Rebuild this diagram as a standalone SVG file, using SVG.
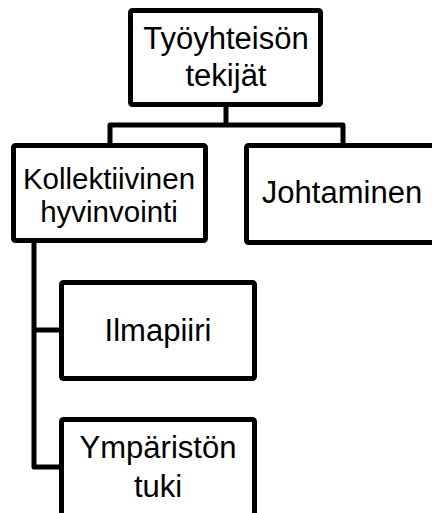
<svg xmlns="http://www.w3.org/2000/svg" width="432" height="513" viewBox="0 0 432 513">
<style>
.box{fill:#fff;stroke:#000;stroke-width:5;}
.t{font-family:"Liberation Sans",Arial,sans-serif;font-size:31px;fill:#000;text-anchor:middle;}
.s{font-size:29.5px;}
.c{fill:none;stroke:#000;stroke-width:5;stroke-linejoin:round;}
</style>
<rect width="432" height="513" fill="#fff"/>
<g id="connectors">
<path class="c" d="M226,105 V125"/>
<path class="c" d="M110,145 V125 H343 V145"/>
<path class="c" d="M34,242 V467 H61"/>
<path class="c" d="M34,330 H61"/>
</g>
<g id="n-tyoyhteison">
<rect class="box" x="130.5" y="10.5" width="190" height="94" rx="2"/>
<text class="t" x="226" y="49">Työyhteisön</text>
<text class="t" x="226" y="86">tekijät</text>
</g>
<g id="n-kollektiivinen">
<rect class="box" x="13.5" y="145.5" width="192" height="95" rx="2"/>
<text class="t s" x="109" y="189">Kollektiivinen</text>
<text class="t s" x="109" y="222">hyvinvointi</text>
</g>
<g id="n-johtaminen">
<rect class="box" x="246.5" y="145.5" width="192" height="97" rx="2"/>
<text class="t" x="342" y="203">Johtaminen</text>
</g>
<g id="n-ilmapiiri">
<rect class="box" x="61.5" y="282.5" width="193" height="96" rx="2"/>
<text class="t" x="158" y="341">Ilmapiiri</text>
</g>
<g id="n-ymparisto">
<rect class="box" x="61.5" y="419.5" width="193" height="96" rx="2"/>
<text class="t" x="158" y="458">Ympäristön</text>
<text class="t" x="158" y="497">tuki</text>
</g>
</svg>
